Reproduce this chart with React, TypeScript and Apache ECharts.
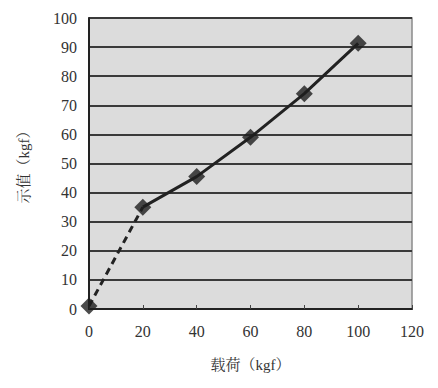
import React, { useEffect, useRef } from "react";
import * as echarts from "echarts";

const loadX = [0, 20, 40, 60, 80, 100];
const shownY = [1, 35, 45.5, 59, 74, 91.3];
const xTicks = [0, 20, 40, 60, 80, 100, 120];
const yTicks = [0, 10, 20, 30, 40, 50, 60, 70, 80, 90, 100];
const xName = "载荷（kgf）";
const yName = "示值（kgf）";

const FONT = "Liberation Serif, Noto Serif CJK SC, Noto Sans CJK SC, serif";

export default function App() {
  const ref = useRef<HTMLDivElement>(null);
  useEffect(() => {
    if (!ref.current) return;
    const chart = echarts.init(ref.current, undefined, { renderer: "svg" });
    const pts = loadX.map((x, i) => [x, shownY[i]]);
    chart.setOption({
      animation: false,
      backgroundColor: "#ffffff",
      grid: {
        left: 89,
        top: 18,
        right: 26,
        bottom: 79,
        show: true,
        backgroundColor: "#dcdcdc",
        borderColor: "#8a8a8a",
        borderWidth: 1.5,
      },
      xAxis: {
        type: "value",
        min: xTicks[0],
        max: xTicks[xTicks.length - 1],
        interval: 20,
        name: xName,
        nameLocation: "middle",
        nameGap: 48,
        nameTextStyle: { fontFamily: FONT, fontSize: 15, color: "#333" },
        axisLine: { show: true, lineStyle: { color: "#222", width: 2 } },
        axisTick: { show: true, inside: true, length: 4, lineStyle: { color: "#444" } },
        axisLabel: { fontFamily: FONT, fontSize: 16, color: "#333", margin: 14 },
        splitLine: { show: false },
      },
      yAxis: {
        type: "value",
        min: yTicks[0],
        max: yTicks[yTicks.length - 1],
        interval: 10,
        name: yName,
        nameLocation: "middle",
        nameGap: 58,
        nameRotate: 90,
        nameTextStyle: { fontFamily: FONT, fontSize: 15, color: "#333" },
        axisLine: { show: true, lineStyle: { color: "#222", width: 2 } },
        axisTick: { show: false },
        axisLabel: { fontFamily: FONT, fontSize: 16, color: "#333", margin: 12 },
        splitLine: { show: true, lineStyle: { color: "#3a3a3a", width: 1.8 } },
      },
      series: [
        {
          type: "line",
          data: pts.slice(0, 2),
          symbol: "none",
          lineStyle: { color: "#222", width: 3, type: [7, 5] },
          z: 3,
        },
        {
          type: "line",
          data: pts.slice(1),
          symbol: "none",
          lineStyle: { color: "#222", width: 3 },
          z: 3,
        },
        {
          type: "scatter",
          data: pts,
          symbol: "diamond",
          symbolSize: 17,
          itemStyle: { color: "#1e1e1e" },
          z: 4,
        },
      ],
    });
    return () => chart.dispose();
  }, []);
  return <div ref={ref} style={{ width: 438, height: 388, position: "absolute", left: 0, top: 0 }} />;
}
